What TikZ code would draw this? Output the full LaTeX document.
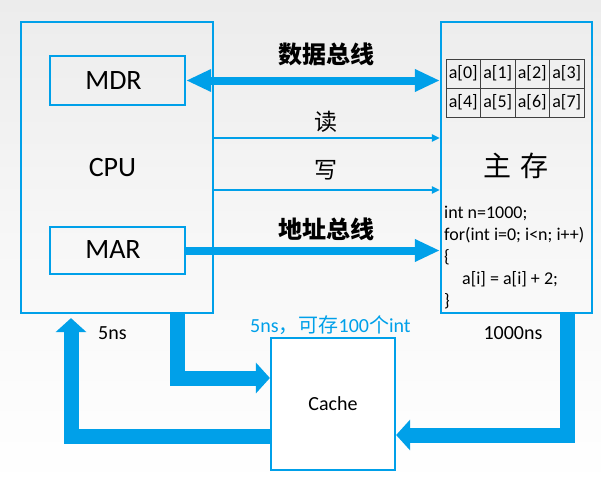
\documentclass[tikz,border=0pt]{standalone}
\usepackage{fontspec}
\setmainfont{Carlito}
\newfontfamily\cjk{Noto Sans CJK SC}
\usetikzlibrary{arrows.meta}
\definecolor{blu}{RGB}{0,160,233}
\definecolor{bgtop}{RGB}{236,236,236}
\definecolor{bgmid}{RGB}{247,247,247}
\begin{document}
\begin{tikzpicture}[x=1pt,y=-1pt,
  box/.style={draw=blu, line width=2.2pt, inner sep=0pt, rectangle},
  cell/.style={draw=black!75, line width=0.8pt, inner sep=0pt, minimum width=34.5pt, minimum height=29pt, font=\fontsize{18}{20}\selectfont},
  bus/.style={blu, line width=8pt},
  thin/.style={blu, line width=2pt, -{Triangle[length=8pt,width=7pt]}},
  fat/.style={blu, line width=15pt, line join=miter, -{Triangle[length=14pt,width=30pt]}},
  lab/.style={inner sep=0pt, font=\cjk\bfseries\fontsize{24}{26}\selectfont},
  rw/.style={inner sep=0pt, font=\cjk\fontsize{23}{25}\selectfont},
  codeline/.style={inner sep=0pt, anchor=base west, font=\fontsize{18}{20}\selectfont},
  big/.style={inner sep=0pt, font=\fontsize{28}{30}\selectfont}
]
\shade[top color=bgtop, bottom color=white, middle color=bgmid] (0,0) rectangle (601,487);
\useasboundingbox (0,0) rectangle (601,487);

% boxes
\node[box, minimum width=192pt, minimum height=291pt] (cpu) at (117,167.5) {};
\node[big] (cpulab) at (112.5,168) {CPU};
\node[box, minimum width=135pt, minimum height=49pt] (mdr) at (117.5,80.5) {};
\node[big] (mdrlab) at (113.5,80.5) {MDR};
\node[box, minimum width=135pt, minimum height=47pt] (mar) at (117.5,250.5) {};
\node[big] (marlab) at (113,250) {MAR};
\node[box, minimum width=151pt, minimum height=291pt] (mem) at (516.5,167.5) {};
\node[box, fill=white, minimum width=124pt, minimum height=132pt, font=\fontsize{20}{22}\selectfont] (cache) at (333,404) {Cache};

% memory table
\foreach \i in {0,...,7} {
  \pgfmathtruncatemacro\col{mod(\i,4)}
  \pgfmathtruncatemacro\row{div(\i,4)}
  \node[cell] (c\i) at ({463.25+34.5*\col},{73.5+29*\row}) {a[\i]};
}
\node[inner sep=0pt, font=\cjk\fontsize{28}{30}\selectfont] (zhucun) at (516,166) {主\hspace{0.35em}存};

% code
\node[codeline] (code1) at (444,218) {int n=1000;};
\node[codeline] (code2) at (444,240) {for(int i=0; i<n; i++)};
\node[codeline] (code3) at (444,262) {\{};
\node[codeline] (code4) at (462,284) {a[i] = a[i] + 2;};
\node[codeline] (code5) at (444,306) {\}};

% buses
\draw[bus, {Triangle[length=25pt,width=21pt]}-{Triangle[length=25pt,width=21pt]}] (mdr.east) -- (mdr.east -| mem.west);
\node[lab] (dbus) at (326,54) {数据总线};
\draw[thin] (cpu.east |- 0,138) coordinate (r0) -- (mem.west |- r0);
\node[rw] (du) at (326,122) {读};
\draw[thin] (cpu.east |- 0,190) coordinate (w0) -- (mem.west |- w0);
\node[rw] (xie) at (326,170) {写};
\draw[bus, -{Triangle[length=25pt,width=21pt]}] (mar.east) -- (mar.east -| mem.west);
\node[lab] (abus) at (326,229) {地址总线};

% bottom thick arrows
\draw[fat] ([xshift=60pt]cpu.south) |- ([yshift=26pt]cache.west);
\draw[fat, shorten >=4pt] ([yshift=-32pt]cache.west) -| ([xshift=-46pt]cpu.south);
\draw[fat] ([xshift=50.5pt]mem.south) |- ([yshift=-31pt]cache.east);

% labels
\node[inner sep=0pt, anchor=west, font=\fontsize{20}{22}\selectfont] (t5) at (98,333) {5ns};
\node[inner sep=0pt, anchor=west, text=blu, font=\fontsize{20}{22}\selectfont] (tc) at (250,325) {5ns{\cjk ，可存}100{\cjk 个}int};
\node[inner sep=0pt, font=\fontsize{20}{22}\selectfont] (t1000) at (513,333) {1000ns};
\end{tikzpicture}
\end{document}
